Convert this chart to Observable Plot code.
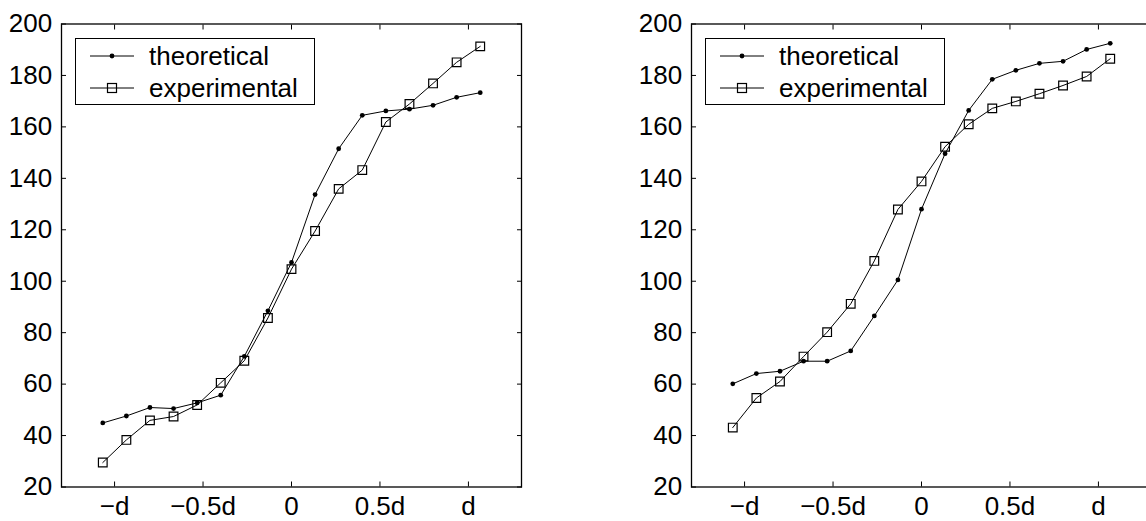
<!DOCTYPE html>
<html>
<head>
<meta charset="utf-8">
<script src="https://cdn.jsdelivr.net/npm/d3@7"></script>
<script src="https://cdn.jsdelivr.net/npm/@observablehq/plot@0.6"></script>
<style>
html, body { margin: 0; padding: 0; background: #fff; overflow: hidden; }
#wrap { position: relative; width: 1146px; height: 521px; overflow: hidden; font-family: "Liberation Sans", Arial, sans-serif; }
.panel { position: absolute; top: 0; }
.legend { position: absolute; top: 38px; width: 240px; height: 67px; box-sizing: border-box; border: 1.3px solid #000; background: #fff; }
.row { position: absolute; left: 0; height: 30px; display: flex; align-items: center; }
.row svg { position: absolute; left: 14px; top: 0; }
.row span { position: absolute; left: 73px; font-size: 26px; line-height: 30px; color: #000; white-space: nowrap; }
</style>
</head>
<body>
<div id="wrap"></div>
<script>
// positions along the gap, in units of d
const xPositions = [-1.0667, -0.9333, -0.8, -0.6667, -0.5333, -0.4, -0.2667, -0.1333, 0, 0.1333, 0.2667, 0.4, 0.5333, 0.6667, 0.8, 0.9333, 1.0667];

// left panel
const leftTheoretical = [44.9, 47.6, 50.9, 50.5, 52.7, 55.7, 70.8, 88.5, 107.3, 133.7, 151.5, 164.5, 166.2, 166.9, 168.4, 171.5, 173.3];
const leftExperimental = [29.5, 38.3, 45.9, 47.4, 51.9, 60.5, 69.1, 85.7, 104.7, 119.5, 135.9, 143.2, 161.9, 168.9, 176.9, 185.1, 191.3];

// right panel
const rightTheoretical = [60.1, 64.1, 65.0, 68.9, 68.9, 72.9, 86.5, 100.5, 128.0, 149.6, 166.4, 178.5, 182.0, 184.7, 185.5, 190.1, 192.5];
const rightExperimental = [43.1, 54.6, 61.0, 70.7, 80.2, 91.2, 107.9, 127.9, 138.8, 152.3, 161.0, 167.2, 169.9, 172.9, 176.1, 179.6, 186.5];

const xTickValues = [-1, -0.5, 0, 0.5, 1];
const xTickLabels = ["\u2212d", "\u22120.5d", "0", "0.5d", "d"];
const yTickValues = [20, 40, 60, 80, 100, 120, 140, 160, 180, 200];
const seriesNames = ["theoretical", "experimental"];

const wrap = document.getElementById("wrap");

function rows(values) {
  return values.map((v, i) => ({x: xPositions[i], y: v}));
}

function makePanel(theo, exp, left) {
  const t = rows(theo), e = rows(exp);
  const chart = Plot.plot({
    width: 560,
    height: 521,
    marginLeft: 61,
    marginRight: 39,
    marginTop: 23.5,
    marginBottom: 34.5,
    style: {fontFamily: "'Liberation Sans', Arial, sans-serif", fontSize: "26px", color: "#000", background: "transparent", overflow: "visible"},
    x: {domain: [-1.3, 1.3], label: null},
    y: {domain: [20, 200], label: null},
    marks: [
      Plot.axisX(xTickValues, {anchor: "bottom", tickSize: -5, tickPadding: 14.5, tickFormat: (d, i) => xTickLabels[i], label: null, stroke: "#000", strokeWidth: 1}),
      Plot.axisX(xTickValues, {anchor: "top", tickSize: -5, tickFormat: () => "", label: null, stroke: "#000", strokeWidth: 1}),
      Plot.axisY(yTickValues, {anchor: "left", tickSize: -5, tickPadding: 14.3, label: null, stroke: "#000", strokeWidth: 1}),
      Plot.axisY(yTickValues, {anchor: "right", tickSize: -5, tickFormat: () => "", label: null, stroke: "#000", strokeWidth: 1}),
      Plot.frame({stroke: "#000", strokeWidth: 1.3}),
      Plot.line(t, {x: "x", y: "y", stroke: "#000", strokeWidth: 1}),
      Plot.dot(t, {x: "x", y: "y", r: 2.4, fill: "#000", stroke: "none"}),
      Plot.line(e, {x: "x", y: "y", stroke: "#000", strokeWidth: 1}),
      Plot.dot(e, {x: "x", y: "y", symbol: "square", r: 4.9, fill: "none", stroke: "#000", strokeWidth: 1.2})
    ]
  });
  chart.classList.add("panel");
  chart.style.left = left + "px";
  wrap.appendChild(chart);

  // legend
  const lg = document.createElement("div");
  lg.className = "legend";
  lg.style.left = (left + 75) + "px";
  seriesNames.forEach((name, i) => {
    const row = document.createElement("div");
    row.className = "row";
    row.style.top = (i === 0 ? 2 : 34) + "px";
    const marker = i === 0
      ? '<circle cx="22" cy="15" r="2.4" fill="#000"/>'
      : '<rect x="17.5" y="10.5" width="9" height="9" fill="none" stroke="#000" stroke-width="1.2"/>';
    row.innerHTML = '<svg width="45" height="30"><line x1="0" y1="15" x2="44" y2="15" stroke="#000" stroke-width="1"/>' + marker + '</svg><span>' + name + '</span>';
    lg.appendChild(row);
  });
  wrap.appendChild(lg);
}

makePanel(leftTheoretical, leftExperimental, 0);
makePanel(rightTheoretical, rightExperimental, 630);
</script>
</body>
</html>
